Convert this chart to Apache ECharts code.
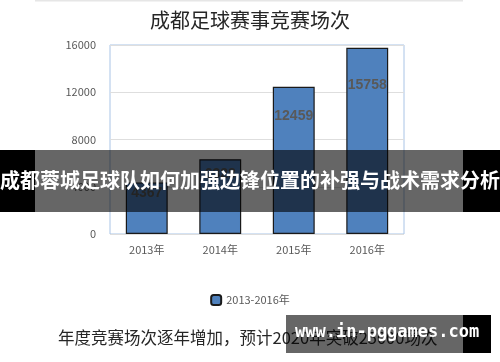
<!DOCTYPE html>
<html>
<head>
<meta charset="utf-8">
<script src="https://cdn.jsdelivr.net/npm/echarts@6/dist/echarts.min.js"></script>
<style>
  html,body{margin:0;padding:0;background:#fff;}
  #chart{width:500px;height:362px;}
</style>
</head>
<body>
<div id="chart"></div>
<script>
// 数据
var years = ['2013年', '2014年', '2015年', '2016年'];
var matches = [4367, 6328, 12459, 15758];
var seriesName = '2013-2016年';

var chart = echarts.init(document.getElementById('chart'));
var font = '"Noto Sans CJK SC", "Open Sans", sans-serif';

var option = {
  animation: false,
  textStyle: { fontFamily: font },
  title: {
    text: '成都足球赛事竞赛场次',
    left: 'center',
    top: 5,
    textStyle: { fontSize: 20, fontWeight: 'normal', color: '#262626', fontFamily: font }
  },
  legend: {
    data: [seriesName],
    top: 289,
    left: 'center',
    itemWidth: 10,
    itemHeight: 10,
    itemGap: 6,
    textStyle: { fontSize: 11, color: '#595959' }
  },
  grid: {
    left: 110, right: 96, top: 45, bottom: 128,
    show: true,
    borderColor: '#a9c4e6',
    borderWidth: 1
  },
  xAxis: {
    type: 'category',
    data: years,
    axisLine: { show: false },
    axisTick: { show: false },
    axisLabel: { color: '#595959', fontSize: 11, margin: 10 }
  },
  yAxis: {
    type: 'value',
    min: 0, max: 16000, interval: 4000,
    axisLine: { show: false },
    axisTick: { show: false },
    axisLabel: { color: '#595959', fontSize: 11, margin: 14, formatter: function (v) { return String(v); } },
    splitLine: { lineStyle: { color: '#dedede' } }
  },
  series: [{
    name: seriesName,
    type: 'bar',
    data: matches,
    barWidth: '57%',
    itemStyle: { color: '#4f81bd', borderColor: '#1a1a1a', borderWidth: 1.2 },
    label: {
      show: true,
      position: ['50%', '20%'],
      align: 'center',
      verticalAlign: 'middle',
      color: '#595959',
      fontSize: 14,
      fontWeight: 'bold',
      fontFamily: 'Liberation Sans, Arial, sans-serif'
    }
  }],
  graphic: [
    { type: 'rect', shape: { x: 35, y: 0, width: 428, height: 1.5 }, style: { fill: '#e6e6e6' }, z: 100 },
    { type: 'text', left: 58, top: 329,
      style: { text: '年度竞赛场次逐年增加，预计2020年突破25000场次', fontSize: 16.5, fill: '#262626', fontFamily: font }, z: 100 },
    // 横幅
    { type: 'rect', shape: { x: 0, y: 150, width: 35, height: 62 }, style: { fill: '#000' }, z: 200 },
    { type: 'rect', shape: { x: 35, y: 150, width: 428, height: 62 }, style: { fill: 'rgba(0,0,0,0.6)' }, z: 200 },
    { type: 'rect', shape: { x: 463, y: 150, width: 37, height: 62 }, style: { fill: '#000' }, z: 200 },
    { type: 'text', left: 'center', top: 170,
      style: { text: '成都蓉城足球队如何加强边锋位置的补强与战术需求分析', fontSize: 20, fontWeight: 'bold', fill: '#fff', fontFamily: font }, z: 201 },
    // 水印
    { type: 'rect', shape: { x: 286, y: 315, width: 177, height: 38 }, style: { fill: 'rgba(0,0,0,0.6)' }, z: 200 },
    { type: 'rect', shape: { x: 463, y: 315, width: 28, height: 38 }, style: { fill: '#000' }, z: 200 },
    { type: 'text', left: 295, top: 324,
      style: { text: 'www.in-pggames.com', fontSize: 17, fontWeight: 'bold', fill: '#fff', fontFamily: 'DejaVu Sans Mono, monospace' }, z: 201 }
  ]
};
chart.setOption(option);
</script>
</body>
</html>
